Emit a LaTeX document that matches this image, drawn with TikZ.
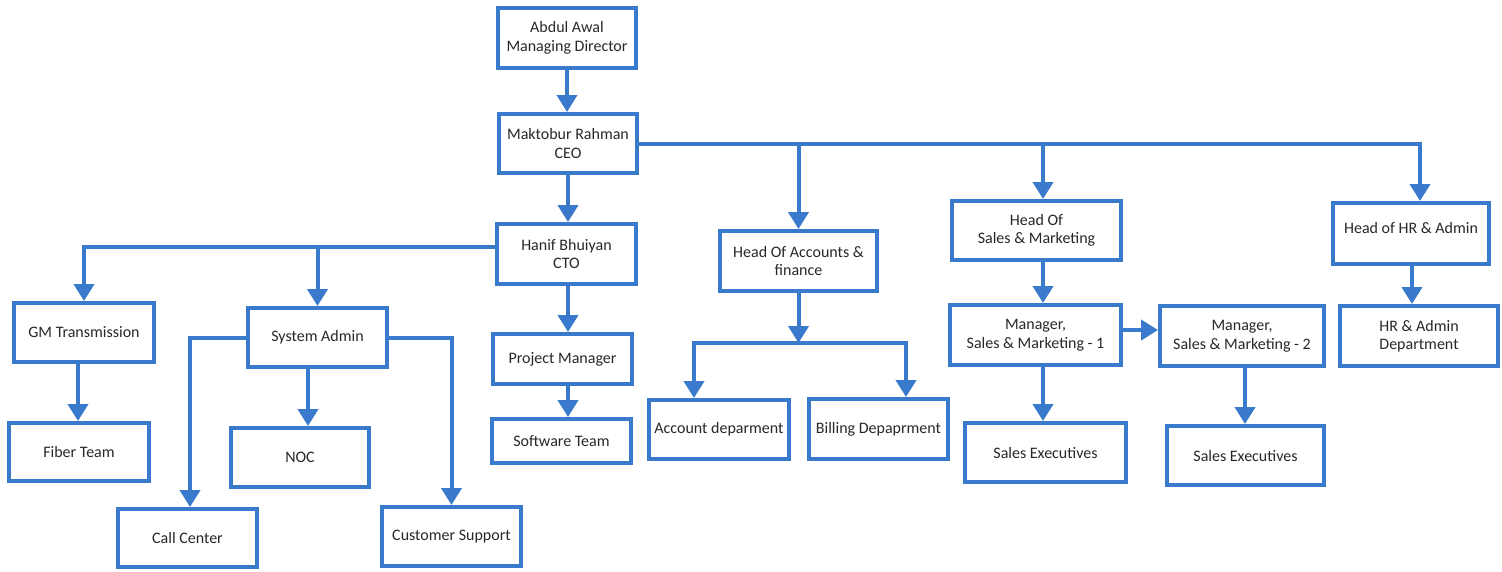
\documentclass[tikz,border=0pt]{standalone}
\usepackage{fontspec}
\setmainfont{Carlito}
\usetikzlibrary{arrows.meta}
\definecolor{orgblue}{RGB}{58,122,204}
\definecolor{txt}{RGB}{40,40,40}
\begin{document}
\begin{tikzpicture}[x=1pt,y=-1pt,
  box/.style={draw=orgblue, line width=4pt, fill=white, text=txt, align=center,
    font=\fontsize{16}{18.5}\selectfont, inner sep=1pt},
  arr/.style={draw=orgblue, line width=4pt, -{Triangle[width=20pt,length=17pt]}},
  ln/.style={draw=orgblue, line width=4pt}]
\useasboundingbox (0,0) rectangle (1502,571);
\fill[white] (0,0) rectangle (1502,571);

% nodes
\node[box, minimum width=138pt, minimum height=60pt] (md)  at (567,38)    {Abdul Awal\\Managing Director};
\node[box, minimum width=138pt, minimum height=59pt] (ceo) at (568,143.5) {Maktobur Rahman\\CEO};
\node[box, minimum width=139pt, minimum height=60pt] (cto) at (566.5,254) {Hanif Bhuiyan\\CTO};
\node[box, minimum width=157pt, minimum height=60pt] (acc) at (798.5,261) {Head Of Accounts \&\\finance};
\node[box, minimum width=169pt, minimum height=59pt] (hs)  at (1036.5,230.5) {Head Of\\Sales \& Marketing};
\node[box, minimum width=156pt, minimum height=61pt] (hhr) at (1411,233.5) {\raisebox{6pt}[\height][\depth]{Head of HR \& Admin}};
\node[box, minimum width=140pt, minimum height=59pt] (gm)  at (84,332.5)  {GM Transmission};
\node[box, minimum width=139pt, minimum height=59pt] (sa)  at (317.5,337.5) {System Admin};
\node[box, minimum width=139pt, minimum height=50pt] (pm)  at (562.5,359) {Project Manager};
\node[box, minimum width=140pt, minimum height=58pt] (fib) at (79,452)    {Fiber Team};
\node[box, minimum width=138pt, minimum height=59pt] (noc) at (300,457.5) {NOC};
\node[box, minimum width=139pt, minimum height=44pt] (sw)  at (561.5,441) {Software Team};
\node[box, minimum width=139pt, minimum height=58pt] (cc)  at (187.5,538) {Call Center};
\node[box, minimum width=139pt, minimum height=59pt] (cs)  at (451.5,536.5) {Customer Support};
\node[box, minimum width=140pt, minimum height=59pt] (ad)  at (719,429.5) {Account deparment};
\node[box, minimum width=139pt, minimum height=60pt] (bd)  at (878.5,429) {Billing Depaprment};
\node[box, minimum width=171pt, minimum height=60pt] (m1)  at (1035.5,335) {Manager,\\Sales \& Marketing - 1};
\node[box, minimum width=164pt, minimum height=60pt] (m2)  at (1242,336)  {Manager,\\Sales \& Marketing - 2};
\node[box, minimum width=158pt, minimum height=60pt] (hrd) at (1419,336)  {HR \& Admin\\Department};
\node[box, minimum width=161pt, minimum height=59pt] (se1) at (1045.5,452.5) {Sales Executives};
\node[box, minimum width=157pt, minimum height=59pt] (se2) at (1245.5,455.5) {Sales Executives};

% connectors
\draw[arr] (md.south) -- (md.south |- ceo.north);
\draw[arr] (ceo.south) -- (ceo.south |- cto.north);

\draw[arr] (ceo.east) -| ([xshift=9pt]hhr.north);
\draw[arr] (acc.north |- ceo.east) -- (acc.north);
\draw[arr] ([xshift=6.5pt]hs.north |- ceo.east) -- ([xshift=6.5pt]hs.north);

\coordinate (ctob) at ([yshift=7pt]cto.west);
\draw[arr] (ctob) -| (gm.north);
\draw[arr] (sa.north |- ctob) -- (sa.north);

\draw[arr] ([xshift=1.5pt]cto.south) -- ([xshift=1.5pt]cto.south |- pm.north);
\draw[arr] ([xshift=5.5pt]pm.south) -- ([xshift=5.5pt]pm.south |- sw.north);
\draw[arr] ([xshift=-6pt]gm.south) -- ([xshift=-6pt]gm.south |- fib.north);

\draw[arr] (sa.west) -| ([xshift=2.5pt]cc.north);
\draw[arr] (sa.east) -| (cs.north);
\draw[arr] ([xshift=-9.5pt]sa.south) -- ([xshift=-9.5pt]sa.south |- noc.north);

\coordinate (accb) at ([yshift=-50pt]acc.south);
\draw[arr] (acc.south) -- (accb);
\draw[arr] (accb) -| ([xshift=-25pt]ad.north);
\draw[arr] (accb) -| ([xshift=27.5pt]bd.north);

\draw[arr] ([xshift=6.5pt]hs.south) -- ([xshift=6.5pt]hs.south |- m1.north);
\draw[arr] ([xshift=7.5pt]m1.south) -- ([xshift=7.5pt]m1.south |- se1.north);
\draw[arr] ([yshift=5pt]m1.east) -- ([yshift=5pt]m1.east -| m2.west);
\draw[arr] ([xshift=3pt]m2.south) -- ([xshift=3pt]m2.south |- se2.north);
\draw[arr] ([xshift=1pt]hhr.south) -- ([xshift=1pt]hhr.south |- hrd.north);
\end{tikzpicture}
\end{document}
